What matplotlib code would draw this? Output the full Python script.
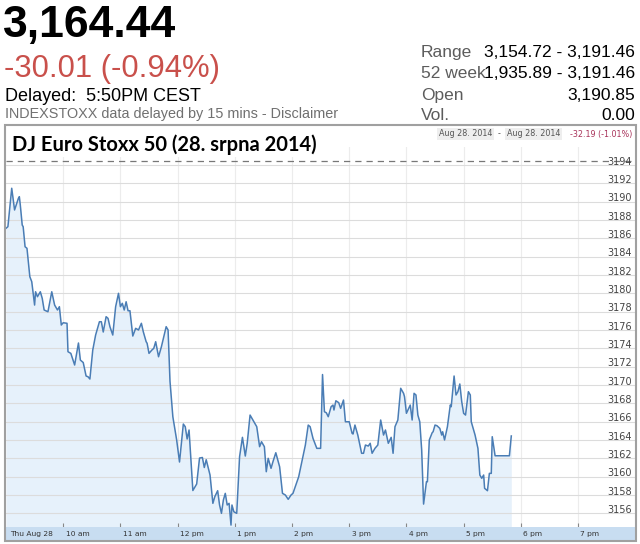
import matplotlib
matplotlib.use("Agg")
import matplotlib.pyplot as plt
import matplotlib.patches as patches
from matplotlib.transforms import blended_transform_factory

# intraday DJ Euro Stoxx 50, 28 Aug 2014 (minutes after 9:00 am)
minutes = [0, 2, 6, 9, 13, 14, 15, 17, 18, 20,
           22, 25, 27, 30, 31, 33, 36, 38, 40, 44,
           48, 51, 54, 56, 58, 60, 64, 65, 68, 72,
           76, 78, 81, 84, 86, 88, 91, 94, 98, 100,
           102, 105, 107, 109, 112, 115, 118, 120, 122, 124,
           126, 128, 130, 133, 136, 139, 142, 144, 147, 148,
           150, 153, 155, 157, 160, 163, 168, 170, 172, 175,
           179, 182, 186, 188, 190, 192, 196, 200, 203, 206,
           208, 210, 214, 217, 219, 222, 224, 226, 228, 230,
           232, 234, 236, 237, 239, 242, 245, 248, 251, 253,
           256, 258, 261, 263, 266, 268, 271, 273, 275, 278,
           280, 283, 287, 290, 293, 296, 299, 301, 307, 310,
           314, 317, 319, 322, 326, 330, 332, 334, 336, 338,
           341, 343, 344, 346, 349, 351, 354, 356, 360, 363,
           364, 366, 369, 373, 375, 377, 380, 382, 384, 387,
           390, 393, 396, 398, 401, 404, 406, 408, 411, 414,
           417, 418, 420, 424, 426, 428, 430, 432, 434, 436,
           438, 441, 442, 444, 447, 448, 450, 452, 455, 457,
           458, 460, 463, 466, 467, 470, 472, 474, 476, 478,
           480, 482, 485, 487, 488, 492, 495, 497, 499, 501,
           502, 505, 507, 509, 510, 513, 528, 530]
prices = [3187.09, 3187.27, 3191.46, 3189.09, 3190.36, 3190.54, 3189.63, 3187.45, 3187.27, 3185.08,
          3184.91, 3181.81, 3181.27, 3178.72, 3180.17, 3179.63, 3180.17, 3179.45, 3178.18, 3177.99,
          3180.17, 3178.72, 3178.18, 3178.54, 3176.54, 3176.79, 3176.73, 3173.63, 3173.45, 3172.18,
          3174.58, 3172.72, 3172.45, 3170.98, 3170.90, 3170.65, 3173.81, 3175.45, 3176.90, 3176.90,
          3175.78, 3177.45, 3177.27, 3176.36, 3175.45, 3178.54, 3180.00, 3178.54, 3178.91, 3178.18,
          3179.08, 3178.10, 3178.10, 3175.34, 3176.18, 3176.00, 3176.73, 3175.81, 3174.72, 3174.55,
          3173.45, 3173.81, 3174.00, 3174.72, 3173.08, 3174.17, 3176.36, 3176.00, 3170.43, 3166.54,
          3164.00, 3161.60, 3165.74, 3165.45, 3164.11, 3165.09, 3158.49, 3159.20, 3162.03, 3162.09,
          3161.00, 3161.85, 3160.18, 3157.09, 3157.81, 3158.47, 3156.91, 3156.00, 3157.45, 3158.18,
          3156.91, 3157.09, 3154.72, 3156.91, 3156.17, 3156.00, 3162.18, 3164.29, 3162.25, 3163.64,
          3166.72, 3166.36, 3165.82, 3165.45, 3163.27, 3163.81, 3163.27, 3160.54, 3162.00, 3160.91,
          3161.63, 3162.61, 3161.08, 3158.18, 3158.00, 3157.53, 3158.00, 3158.18, 3159.99, 3161.45,
          3163.45, 3165.63, 3165.45, 3164.18, 3163.09, 3163.09, 3171.14, 3167.08, 3166.97, 3166.54,
          3167.63, 3167.81, 3167.27, 3168.28, 3168.07, 3167.45, 3168.36, 3165.99, 3165.99, 3164.73,
          3164.65, 3165.63, 3164.54, 3162.55, 3162.55, 3163.45, 3163.34, 3163.64, 3162.55, 3163.09,
          3163.45, 3166.18, 3164.54, 3165.09, 3163.64, 3164.29, 3162.55, 3165.45, 3166.18, 3169.64,
          3169.09, 3168.72, 3166.91, 3167.81, 3166.18, 3169.09, 3168.91, 3166.72, 3165.99, 3162.91,
          3157.01, 3159.45, 3159.45, 3164.00, 3164.79, 3164.90, 3165.63, 3165.56, 3165.27, 3164.54,
          3164.90, 3164.00, 3165.45, 3167.81, 3167.63, 3170.98, 3168.91, 3169.27, 3170.11, 3168.18,
          3166.91, 3166.72, 3169.27, 3168.91, 3165.99, 3164.54, 3163.09, 3160.18, 3159.82, 3160.18,
          3158.73, 3158.47, 3160.36, 3160.36, 3164.36, 3162.28, 3162.28, 3164.44]
prev_close = 3194.45

hour_ticks = [60, 120, 180, 240, 300, 360, 420, 480, 540, 600]
hour_labels = ["10 am", "11 am", "12 pm", "1 pm", "2 pm", "3 pm", "4 pm", "5 pm", "6 pm", "7 pm"]
price_ticks = list(range(3156, 3195, 2))

stats_labels = ["Range", "52 week", "Open", "Vol."]
stats_values = ["3,154.72 - 3,191.46", "1,935.89 - 3,191.46", "3,190.85", "0.00"]

W, H = 640, 544
def fx(x):
    return x / W
def fy(y):
    return 1 - y / H

fig = plt.figure(figsize=(6.4, 5.44), dpi=100)
fig.patch.set_facecolor("white")
hdr = "Liberation Sans"

# header
fig.text(fx(3), fy(37), "3,164.44", family=hdr, weight="bold", fontsize=32, va="baseline")
fig.text(fx(4), fy(77), "-30.01 (-0.94%)", family=hdr, fontsize=22.3, color="#c9504b", va="baseline")
fig.text(fx(5), fy(101), "Delayed:  5:50PM CEST", family=hdr, fontsize=13, va="baseline")
fig.text(fx(5), fy(118), "INDEXSTOXX data delayed by 15 mins - Disclaimer", family=hdr,
         fontsize=10.4, color="#707070", va="baseline")
for lab, val, base in zip(stats_labels, stats_values, [57, 78.5, 100, 119.5]):
    fig.text(fx(421), fy(base), lab, family=hdr, fontsize=12.5, color="#5c5c5c", va="baseline")
    fig.text(fx(635), fy(base), val, family=hdr, fontsize=12.5, ha="right", va="baseline")

# chart frame
fig.patches.append(patches.Rectangle((fx(5), fy(541)), fx(631), 416 / H, transform=fig.transFigure,
                                     fill=False, edgecolor="#a0a0a0", lw=1.5, zorder=0))

ax = fig.add_axes([fx(6), fy(527), 630 / W, 380 / H])
ax.set_xlim(0, 660.8)
ax.set_ylim(3154.51, 3195.96)
for s in ax.spines.values():
    s.set_visible(False)
ax.set_yticks([])
ax.set_xticks(hour_ticks)
ax.tick_params(axis="x", direction="in", length=3, color="#888888", labelbottom=False)

for t in hour_ticks:
    ax.axvline(t, color="#ececec", lw=0.8, zorder=1)
for p in price_ticks:
    ax.axhline(p, color="#dcdcdc", lw=0.8, zorder=2)
ax.axhline(prev_close, color="#777777", lw=0.9, dashes=(5, 4), zorder=4)

ax.fill_between(minutes, prices, 3154.51, color="#e6f1fb", lw=0, zorder=1.5)
ax.plot(minutes, prices, color="#4a7db5", lw=1.1, zorder=3)

tr = blended_transform_factory(ax.transAxes, ax.transData)
for p in price_ticks:
    ax.text(0.993, p + 0.36, str(p), transform=tr, ha="right", va="center",
            fontsize=7, color="#444444", zorder=5)

# time axis band
band = fig.add_axes([fx(6), fy(540), 630 / W, 13 / H])
band.set_facecolor("#c8ddf1")
band.set_xlim(0, 660.8)
band.set_ylim(0, 1)
for s in band.spines.values():
    s.set_visible(False)
band.set_xticks([])
band.set_yticks([])
band.text(4, 0.45, "Thu Aug 28", fontsize=5.4, color="#333333", va="center")
for t, lab in zip(hour_ticks, hour_labels):
    band.text(t + 2.5, 0.45, lab, fontsize=5.4, color="#333333", va="center")

# chart title and period info
fig.text(fx(12), fy(151), "DJ Euro Stoxx 50 (28. srpna 2014)", family="Lato", weight="bold",
         fontsize=14.5, va="baseline", zorder=6,
         bbox=dict(facecolor="white", edgecolor="none", pad=1.5))
box = dict(facecolor="#eeeeee", edgecolor="none", pad=1.2)
fig.text(fx(439), fy(134), "Aug 28. 2014", fontsize=5.8, color="#555555", va="center", bbox=box)
fig.text(fx(498), fy(134), "-", fontsize=5.8, color="#555555", va="center")
fig.text(fx(507), fy(134), "Aug 28. 2014", fontsize=5.8, color="#555555", va="center", bbox=box)
fig.text(fx(632), fy(134), "-32.19 (-1.01%)", fontsize=5.8, color="#a8335a", va="center", ha="right")

fig.savefig("out.png", dpi=100)
